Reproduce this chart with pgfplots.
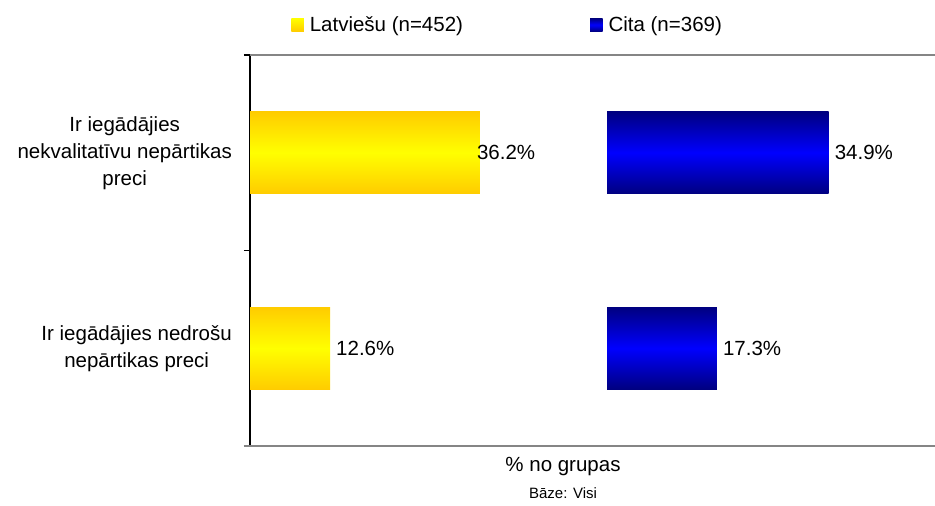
\documentclass[border=0pt]{standalone}
\usepackage{pgfplots}
\pgfplotsset{compat=1.18}
\usepackage{fontspec}
\setmainfont{Liberation Sans}

\definecolor{yelEdge}{HTML}{FFCC00}
\definecolor{yelMid}{HTML}{FFFF00}
\definecolor{bluEdge}{HTML}{000080}
\definecolor{bluMid}{HTML}{0000FF}
\definecolor{frameGray}{HTML}{858585}

\newcommand{\chartfont}{\fontsize{20.5pt}{27pt}\selectfont}

\pgfplotsset{
  panel/.style={
    scale only axis,
    anchor=south west,
    height=391pt,
    ymin=-0.5, ymax=1.5,
    xmin=0,
    enlargelimits=false,
    xbar, bar width=82pt, bar shift=0pt,
    xtick=\empty,
    axis x line=none,
    clip=false,
    nodes near coords={\pgfmathprintnumber{\pgfplotspointmeta}\%},
    nodes near coords align={horizontal},
    every node near coord/.append style={font=\chartfont, anchor=west, inner sep=0pt, xshift=6pt},
    /pgf/number format/.cd, fixed, precision=1, fixed zerofill, assume math mode=true,
  },
  % each bar is its own path so that its shading runs across that bar alone
  yelbar/.style={draw=none, forget plot, top color=yelEdge, bottom color=yelEdge, middle color=yelMid},
  blubar/.style={draw=none, forget plot, top color=bluEdge, bottom color=bluEdge, middle color=bluMid},
}

\begin{document}
\begin{tikzpicture}[font=\chartfont]
\path[use as bounding box] (0pt,0pt) rectangle (935pt,506pt);

% left panel: Latviesu
\begin{axis}[panel,
  at={(250pt,60pt)}, width=357pt, xmax=56.22,
  axis y line*=left,
  y axis line style={black, line width=1.3pt, -},
  ytick={0,1},
  yticklabels={{Ir iegādājies nedrošu\\nepārtikas preci},{Ir iegādājies\\nekvalitatīvu nepārtikas\\preci}},
  yticklabel style={align=center, font=\chartfont, inner sep=0pt, xshift=-18pt},
  major tick length=0pt,
  minor ytick={-0.5,0.5,1.5},
  minor tick length=6pt,
  tick align=outside,
  minor tick style={black, line width=1.2pt},
  legend columns=2,
  legend style={at={(0.115,1.077)}, anchor=west, draw=none, fill=none,
    inner sep=0pt, font=\chartfont,
    /tikz/every odd column/.append style={column sep=4pt},
    /tikz/every even column/.append style={column sep=125pt}},
]
\addplot[yelbar] coordinates {(12.6,0)};
% this label sits slightly over the end of its bar
\addplot[yelbar, every node near coord/.append style={xshift=-9pt}] coordinates {(36.2,1)};
\addlegendimage{legend image code/.code={\shade[draw=none, top color=yelMid, bottom color=yelEdge] (0pt,-6.5pt) rectangle (12.5pt,6.5pt);}}
\addlegendentry{Latviešu (n=452)}
\addlegendimage{legend image code/.code={\shade[draw=none, top color=bluEdge, bottom color=bluEdge, middle color=bluMid] (0pt,-6.5pt) rectangle (12.5pt,6.5pt);}}
\addlegendentry{Cita (n=369)}
\end{axis}

% right panel: Cita
\begin{axis}[panel,
  at={(607pt,60pt)}, width=328pt, xmax=51.65,
  axis y line=none, ytick=\empty,
]
\addplot[blubar] coordinates {(17.3,0)};
\addplot[blubar] coordinates {(34.9,1)};
\end{axis}

% plot-area frame lines
\draw[frameGray, line width=1.5pt] (250pt,451pt) -- (935pt,451pt);
\draw[frameGray, line width=1.5pt] (244pt,60pt) -- (935pt,60pt);

\node at (563pt,39pt) {\% no grupas};
\node[font=\fontsize{15pt}{18pt}\selectfont] at (563pt,13pt) {Bāze: Visi};
\end{tikzpicture}
\end{document}
